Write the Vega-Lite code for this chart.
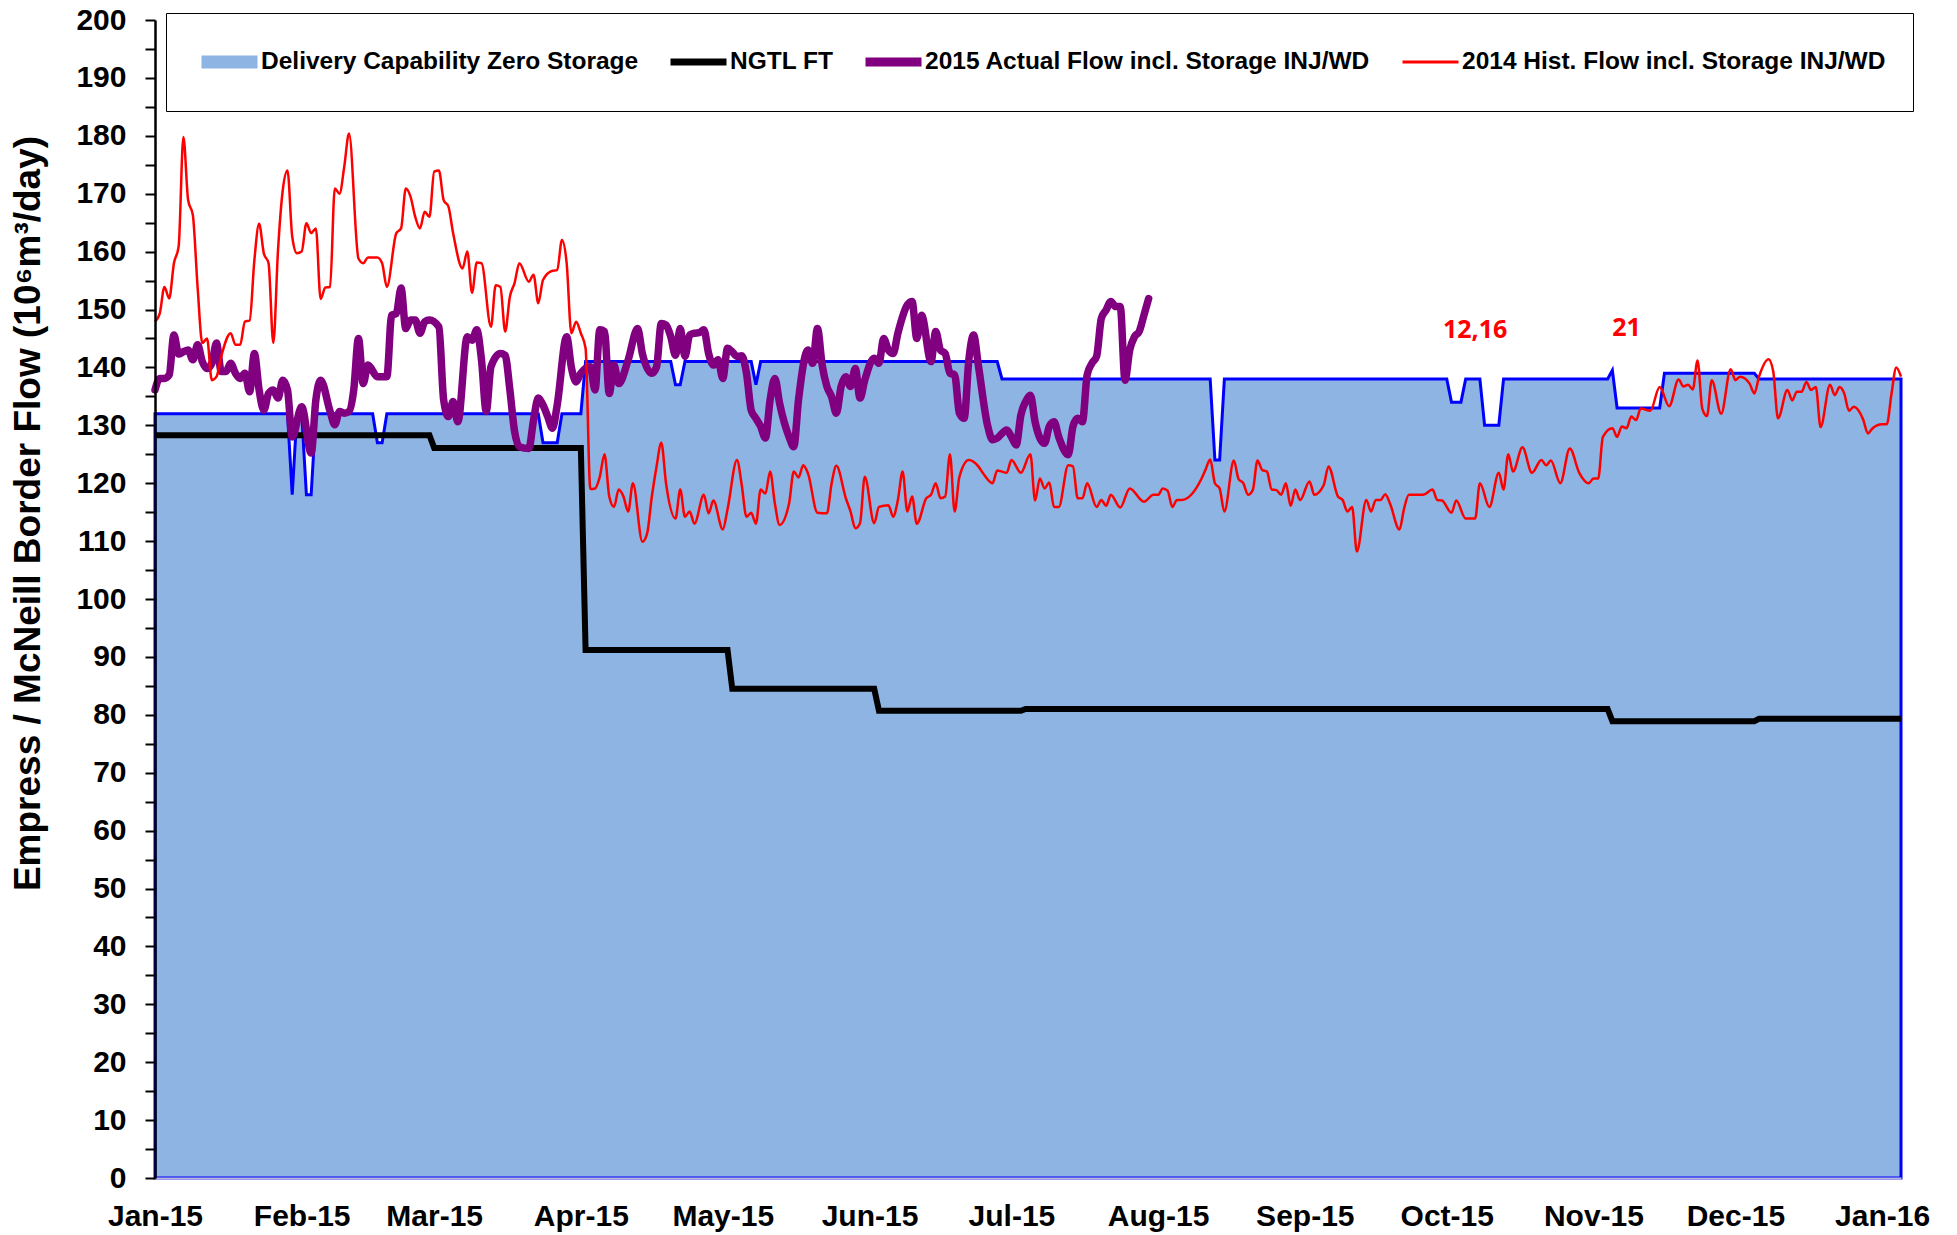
{
  "$schema": "https://vega.github.io/schema/vega-lite/v6.json",
  "width": 1746,
  "height": 1158,
  "autosize": {"type": "none"},
  "padding": {"left": 155, "top": 20, "right": 56, "bottom": 57},
  "background": "white",
  "config": {"view": {"stroke": null}, "font": "Liberation Sans"},
  "datasets": {
    "cap": [
      {"date": "2015-01-01", "value": 132}, {"date": "2015-01-29", "value": 132}, {"date": "2015-01-30", "value": 118}, {"date": "2015-01-31", "value": 132},
      {"date": "2015-02-01", "value": 132}, {"date": "2015-02-02", "value": 118}, {"date": "2015-02-03", "value": 118}, {"date": "2015-02-04", "value": 132},
      {"date": "2015-02-16", "value": 132}, {"date": "2015-02-17", "value": 127}, {"date": "2015-02-18", "value": 127}, {"date": "2015-02-19", "value": 132},
      {"date": "2015-03-23", "value": 132}, {"date": "2015-03-24", "value": 127}, {"date": "2015-03-27", "value": 127}, {"date": "2015-03-28", "value": 132},
      {"date": "2015-04-01", "value": 132}, {"date": "2015-04-02", "value": 141}, {"date": "2015-04-20", "value": 141}, {"date": "2015-04-21", "value": 137},
      {"date": "2015-04-22", "value": 137}, {"date": "2015-04-23", "value": 141}, {"date": "2015-05-07", "value": 141}, {"date": "2015-05-08", "value": 137},
      {"date": "2015-05-09", "value": 141}, {"date": "2015-06-28", "value": 141}, {"date": "2015-06-29", "value": 138}, {"date": "2015-08-12", "value": 138},
      {"date": "2015-08-13", "value": 124}, {"date": "2015-08-14", "value": 124}, {"date": "2015-08-15", "value": 138}, {"date": "2015-10-01", "value": 138},
      {"date": "2015-10-02", "value": 134}, {"date": "2015-10-04", "value": 134}, {"date": "2015-10-05", "value": 138}, {"date": "2015-10-08", "value": 138},
      {"date": "2015-10-09", "value": 130}, {"date": "2015-10-12", "value": 130}, {"date": "2015-10-13", "value": 138}, {"date": "2015-11-04", "value": 138},
      {"date": "2015-11-05", "value": 139.5}, {"date": "2015-11-06", "value": 133}, {"date": "2015-11-15", "value": 133}, {"date": "2015-11-16", "value": 139},
      {"date": "2015-12-05", "value": 139}, {"date": "2015-12-06", "value": 138}, {"date": "2016-01-05", "value": 138}
    ],
    "ft": [
      {"date": "2015-01-01", "value": 128.3}, {"date": "2015-02-28", "value": 128.3}, {"date": "2015-03-01", "value": 126.1}, {"date": "2015-04-01", "value": 126.1},
      {"date": "2015-04-02", "value": 91.2}, {"date": "2015-05-02", "value": 91.2}, {"date": "2015-05-03", "value": 84.5}, {"date": "2015-06-02", "value": 84.5},
      {"date": "2015-06-03", "value": 80.7}, {"date": "2015-07-03", "value": 80.7}, {"date": "2015-07-04", "value": 81.0}, {"date": "2015-11-04", "value": 81.0},
      {"date": "2015-11-05", "value": 78.9}, {"date": "2015-12-05", "value": 78.9}, {"date": "2015-12-06", "value": 79.3}, {"date": "2016-01-05", "value": 79.3}
    ],
    "act": [
      {"date": "2015-01-01", "value": 136.1}, {"date": "2015-01-02", "value": 138.1}, {"date": "2015-01-03", "value": 138.1}, {"date": "2015-01-04", "value": 138.7},
      {"date": "2015-01-05", "value": 145.6}, {"date": "2015-01-06", "value": 142.3}, {"date": "2015-01-07", "value": 142.7}, {"date": "2015-01-08", "value": 143},
      {"date": "2015-01-09", "value": 141.3}, {"date": "2015-01-10", "value": 143.9}, {"date": "2015-01-11", "value": 141}, {"date": "2015-01-12", "value": 139.8},
      {"date": "2015-01-13", "value": 140.7}, {"date": "2015-01-14", "value": 144.2}, {"date": "2015-01-15", "value": 139.3}, {"date": "2015-01-16", "value": 139.3},
      {"date": "2015-01-17", "value": 140.7}, {"date": "2015-01-18", "value": 139}, {"date": "2015-01-19", "value": 138.1}, {"date": "2015-01-20", "value": 139},
      {"date": "2015-01-21", "value": 135.8}, {"date": "2015-01-22", "value": 142.4}, {"date": "2015-01-23", "value": 136.1}, {"date": "2015-01-24", "value": 132.6},
      {"date": "2015-01-25", "value": 135.5}, {"date": "2015-01-26", "value": 136.1}, {"date": "2015-01-27", "value": 134.7}, {"date": "2015-01-28", "value": 137.8},
      {"date": "2015-01-29", "value": 136.1}, {"date": "2015-01-30", "value": 128}, {"date": "2015-02-01", "value": 133.2}, {"date": "2015-02-03", "value": 125.2},
      {"date": "2015-02-04", "value": 134.4}, {"date": "2015-02-05", "value": 137.8}, {"date": "2015-02-07", "value": 132.4}, {"date": "2015-02-08", "value": 130.1},
      {"date": "2015-02-09", "value": 132.4}, {"date": "2015-02-10", "value": 132.1}, {"date": "2015-02-11", "value": 132.4}, {"date": "2015-02-12", "value": 136.1},
      {"date": "2015-02-13", "value": 145}, {"date": "2015-02-14", "value": 137.2}, {"date": "2015-02-15", "value": 140.4}, {"date": "2015-02-17", "value": 138.4},
      {"date": "2015-02-19", "value": 138.4}, {"date": "2015-02-20", "value": 149}, {"date": "2015-02-21", "value": 149.3}, {"date": "2015-02-22", "value": 153.7},
      {"date": "2015-02-23", "value": 146.7}, {"date": "2015-02-24", "value": 148.2}, {"date": "2015-02-25", "value": 148.2}, {"date": "2015-02-26", "value": 145.9},
      {"date": "2015-02-27", "value": 147.9}, {"date": "2015-02-28", "value": 148.2}, {"date": "2015-03-02", "value": 147}, {"date": "2015-03-03", "value": 134.4},
      {"date": "2015-03-04", "value": 131.5}, {"date": "2015-03-05", "value": 134.1}, {"date": "2015-03-06", "value": 130.6}, {"date": "2015-03-08", "value": 145.3},
      {"date": "2015-03-09", "value": 144.7}, {"date": "2015-03-10", "value": 146.5}, {"date": "2015-03-11", "value": 141.3}, {"date": "2015-03-12", "value": 132.4},
      {"date": "2015-03-13", "value": 140.1}, {"date": "2015-03-15", "value": 142.4}, {"date": "2015-03-16", "value": 142.1}, {"date": "2015-03-17", "value": 136.1},
      {"date": "2015-03-18", "value": 128.9}, {"date": "2015-03-19", "value": 126.3}, {"date": "2015-03-21", "value": 126}, {"date": "2015-03-22", "value": 130.9},
      {"date": "2015-03-23", "value": 134.7}, {"date": "2015-03-24", "value": 133.5}, {"date": "2015-03-25", "value": 131.5}, {"date": "2015-03-26", "value": 129.5},
      {"date": "2015-03-27", "value": 133.5}, {"date": "2015-03-29", "value": 145.3}, {"date": "2015-03-30", "value": 140}, {"date": "2015-03-31", "value": 137.5},
      {"date": "2015-04-01", "value": 139}, {"date": "2015-04-03", "value": 140.1}, {"date": "2015-04-04", "value": 136.1}, {"date": "2015-04-05", "value": 146.5},
      {"date": "2015-04-06", "value": 146.2}, {"date": "2015-04-07", "value": 135.5}, {"date": "2015-04-08", "value": 140.4}, {"date": "2015-04-09", "value": 137.2},
      {"date": "2015-04-11", "value": 141.3}, {"date": "2015-04-13", "value": 146.7}, {"date": "2015-04-14", "value": 142.4}, {"date": "2015-04-16", "value": 139},
      {"date": "2015-04-17", "value": 140.1}, {"date": "2015-04-18", "value": 147.6}, {"date": "2015-04-19", "value": 147.3}, {"date": "2015-04-20", "value": 145.3},
      {"date": "2015-04-21", "value": 142.1}, {"date": "2015-04-22", "value": 146.7}, {"date": "2015-04-23", "value": 141.9}, {"date": "2015-04-24", "value": 145.6},
      {"date": "2015-04-25", "value": 145.9}, {"date": "2015-04-26", "value": 146}, {"date": "2015-04-27", "value": 146.5}, {"date": "2015-04-28", "value": 142.4},
      {"date": "2015-04-29", "value": 140.4}, {"date": "2015-04-30", "value": 141.3}, {"date": "2015-05-01", "value": 138.1}, {"date": "2015-05-02", "value": 143.3},
      {"date": "2015-05-03", "value": 142.7}, {"date": "2015-05-04", "value": 141.9}, {"date": "2015-05-05", "value": 142}, {"date": "2015-05-06", "value": 139},
      {"date": "2015-05-07", "value": 132.6}, {"date": "2015-05-08", "value": 131.2}, {"date": "2015-05-09", "value": 129.8}, {"date": "2015-05-10", "value": 127.8},
      {"date": "2015-05-11", "value": 134.4}, {"date": "2015-05-12", "value": 138.1}, {"date": "2015-05-13", "value": 133.8}, {"date": "2015-05-15", "value": 128},
      {"date": "2015-05-16", "value": 126.3}, {"date": "2015-05-17", "value": 134.4}, {"date": "2015-05-19", "value": 143}, {"date": "2015-05-20", "value": 140.7},
      {"date": "2015-05-21", "value": 146.7}, {"date": "2015-05-22", "value": 140.4}, {"date": "2015-05-23", "value": 136.7}, {"date": "2015-05-24", "value": 134.9},
      {"date": "2015-05-25", "value": 132.1}, {"date": "2015-05-26", "value": 136.7}, {"date": "2015-05-27", "value": 138.4}, {"date": "2015-05-28", "value": 136.7},
      {"date": "2015-05-29", "value": 139.8}, {"date": "2015-05-30", "value": 134.7}, {"date": "2015-05-31", "value": 137.8}, {"date": "2015-06-02", "value": 141.6},
      {"date": "2015-06-03", "value": 140.7}, {"date": "2015-06-04", "value": 145}, {"date": "2015-06-05", "value": 143}, {"date": "2015-06-06", "value": 142.4},
      {"date": "2015-06-07", "value": 145.9}, {"date": "2015-06-09", "value": 150.8}, {"date": "2015-06-10", "value": 151.4}, {"date": "2015-06-11", "value": 145},
      {"date": "2015-06-12", "value": 149}, {"date": "2015-06-14", "value": 141}, {"date": "2015-06-15", "value": 146.2}, {"date": "2015-06-16", "value": 143},
      {"date": "2015-06-17", "value": 142.4}, {"date": "2015-06-18", "value": 139}, {"date": "2015-06-19", "value": 138.7}, {"date": "2015-06-20", "value": 132.1},
      {"date": "2015-06-21", "value": 131.2}, {"date": "2015-06-22", "value": 141.3}, {"date": "2015-06-23", "value": 145.6}, {"date": "2015-06-24", "value": 140.4},
      {"date": "2015-06-26", "value": 129.8}, {"date": "2015-06-27", "value": 127.5}, {"date": "2015-06-28", "value": 127.8}, {"date": "2015-06-30", "value": 129.2},
      {"date": "2015-07-01", "value": 128}, {"date": "2015-07-02", "value": 126.6}, {"date": "2015-07-03", "value": 131.8}, {"date": "2015-07-04", "value": 134.1},
      {"date": "2015-07-05", "value": 135.2}, {"date": "2015-07-06", "value": 130.6}, {"date": "2015-07-08", "value": 126.9}, {"date": "2015-07-09", "value": 129.8},
      {"date": "2015-07-10", "value": 130.6}, {"date": "2015-07-11", "value": 128}, {"date": "2015-07-13", "value": 124.9}, {"date": "2015-07-14", "value": 129.8},
      {"date": "2015-07-15", "value": 131.2}, {"date": "2015-07-16", "value": 130.6}, {"date": "2015-07-17", "value": 138.7}, {"date": "2015-07-18", "value": 140.7},
      {"date": "2015-07-19", "value": 141.9}, {"date": "2015-07-20", "value": 148.5}, {"date": "2015-07-21", "value": 149.9}, {"date": "2015-07-22", "value": 151.4},
      {"date": "2015-07-23", "value": 150.5}, {"date": "2015-07-24", "value": 150.5}, {"date": "2015-07-25", "value": 137.8}, {"date": "2015-07-26", "value": 143},
      {"date": "2015-07-27", "value": 145.3}, {"date": "2015-07-28", "value": 146.2}, {"date": "2015-07-29", "value": 149}, {"date": "2015-07-30", "value": 151.9}
    ],
    "hist": [
      {"date": "2015-01-01", "value": 147.9}, {"date": "2015-01-02", "value": 149.3}, {"date": "2015-01-03", "value": 153.9}, {"date": "2015-01-04", "value": 151.9},
      {"date": "2015-01-05", "value": 158}, {"date": "2015-01-06", "value": 160.9}, {"date": "2015-01-07", "value": 179.8}, {"date": "2015-01-08", "value": 168.9},
      {"date": "2015-01-09", "value": 166.3}, {"date": "2015-01-10", "value": 153.9}, {"date": "2015-01-11", "value": 144.2}, {"date": "2015-01-12", "value": 145},
      {"date": "2015-01-13", "value": 137.8}, {"date": "2015-01-14", "value": 138.4}, {"date": "2015-01-15", "value": 141.9}, {"date": "2015-01-17", "value": 145.9},
      {"date": "2015-01-18", "value": 143.9}, {"date": "2015-01-19", "value": 143.9}, {"date": "2015-01-20", "value": 147.9}, {"date": "2015-01-21", "value": 148.1},
      {"date": "2015-01-22", "value": 158.5}, {"date": "2015-01-23", "value": 164.8}, {"date": "2015-01-24", "value": 159.7}, {"date": "2015-01-25", "value": 158},
      {"date": "2015-01-26", "value": 144.2}, {"date": "2015-01-27", "value": 160.3}, {"date": "2015-01-28", "value": 170.6}, {"date": "2015-01-29", "value": 174},
      {"date": "2015-01-30", "value": 162.6}, {"date": "2015-01-31", "value": 159.7}, {"date": "2015-02-01", "value": 160}, {"date": "2015-02-02", "value": 164.9},
      {"date": "2015-02-03", "value": 163.2}, {"date": "2015-02-04", "value": 164}, {"date": "2015-02-05", "value": 151.8}, {"date": "2015-02-06", "value": 153.8},
      {"date": "2015-02-07", "value": 153.9}, {"date": "2015-02-08", "value": 170.9}, {"date": "2015-02-09", "value": 170}, {"date": "2015-02-10", "value": 174.7},
      {"date": "2015-02-11", "value": 180.4}, {"date": "2015-02-13", "value": 158.8}, {"date": "2015-02-14", "value": 158}, {"date": "2015-02-15", "value": 159},
      {"date": "2015-02-17", "value": 159}, {"date": "2015-02-18", "value": 158}, {"date": "2015-02-19", "value": 153.9}, {"date": "2015-02-21", "value": 163.2},
      {"date": "2015-02-22", "value": 164}, {"date": "2015-02-23", "value": 170.9}, {"date": "2015-02-24", "value": 169.5}, {"date": "2015-02-25", "value": 166},
      {"date": "2015-02-26", "value": 164}, {"date": "2015-02-27", "value": 166.9}, {"date": "2015-02-28", "value": 166}, {"date": "2015-03-01", "value": 173.8},
      {"date": "2015-03-02", "value": 174}, {"date": "2015-03-03", "value": 168.9}, {"date": "2015-03-04", "value": 167.8}, {"date": "2015-03-05", "value": 163.2},
      {"date": "2015-03-07", "value": 157.1}, {"date": "2015-03-08", "value": 160}, {"date": "2015-03-09", "value": 152.9}, {"date": "2015-03-10", "value": 158.1},
      {"date": "2015-03-11", "value": 158}, {"date": "2015-03-13", "value": 147}, {"date": "2015-03-14", "value": 154.2}, {"date": "2015-03-15", "value": 153.9},
      {"date": "2015-03-16", "value": 146.2}, {"date": "2015-03-17", "value": 152.2}, {"date": "2015-03-18", "value": 154.6}, {"date": "2015-03-19", "value": 158},
      {"date": "2015-03-21", "value": 154.8}, {"date": "2015-03-22", "value": 156}, {"date": "2015-03-23", "value": 151.1}, {"date": "2015-03-24", "value": 155.1},
      {"date": "2015-03-26", "value": 156.7}, {"date": "2015-03-27", "value": 156.8}, {"date": "2015-03-28", "value": 162}, {"date": "2015-03-29", "value": 158},
      {"date": "2015-03-30", "value": 145.9}, {"date": "2015-03-31", "value": 147.9}, {"date": "2015-04-01", "value": 145.9}, {"date": "2015-04-02", "value": 143.3},
      {"date": "2015-04-03", "value": 119}, {"date": "2015-04-04", "value": 119.1}, {"date": "2015-04-05", "value": 121.1}, {"date": "2015-04-06", "value": 125},
      {"date": "2015-04-07", "value": 117.7}, {"date": "2015-04-08", "value": 115.9}, {"date": "2015-04-09", "value": 118.9}, {"date": "2015-04-10", "value": 117.7},
      {"date": "2015-04-11", "value": 115.1}, {"date": "2015-04-12", "value": 120}, {"date": "2015-04-14", "value": 109.9}, {"date": "2015-04-15", "value": 111.3},
      {"date": "2015-04-16", "value": 117.7}, {"date": "2015-04-17", "value": 122.9}, {"date": "2015-04-18", "value": 127}, {"date": "2015-04-19", "value": 120},
      {"date": "2015-04-21", "value": 113.9}, {"date": "2015-04-22", "value": 118.9}, {"date": "2015-04-23", "value": 114.2}, {"date": "2015-04-24", "value": 115.1},
      {"date": "2015-04-25", "value": 113}, {"date": "2015-04-27", "value": 118}, {"date": "2015-04-28", "value": 114.8}, {"date": "2015-04-29", "value": 117},
      {"date": "2015-05-01", "value": 112}, {"date": "2015-05-02", "value": 115.5}, {"date": "2015-05-04", "value": 124}, {"date": "2015-05-05", "value": 119.7},
      {"date": "2015-05-06", "value": 114.2}, {"date": "2015-05-07", "value": 114.9}, {"date": "2015-05-08", "value": 113}, {"date": "2015-05-09", "value": 118.9},
      {"date": "2015-05-10", "value": 118.2}, {"date": "2015-05-11", "value": 122}, {"date": "2015-05-12", "value": 116.5}, {"date": "2015-05-13", "value": 112.8},
      {"date": "2015-05-15", "value": 116.5}, {"date": "2015-05-16", "value": 122}, {"date": "2015-05-17", "value": 121}, {"date": "2015-05-18", "value": 123.1},
      {"date": "2015-05-19", "value": 121.7}, {"date": "2015-05-21", "value": 114.9}, {"date": "2015-05-23", "value": 114.8}, {"date": "2015-05-24", "value": 120},
      {"date": "2015-05-25", "value": 123}, {"date": "2015-05-27", "value": 117.4}, {"date": "2015-05-28", "value": 115.1}, {"date": "2015-05-29", "value": 112.2},
      {"date": "2015-05-30", "value": 113.1}, {"date": "2015-05-31", "value": 121.1}, {"date": "2015-06-02", "value": 113.1}, {"date": "2015-06-03", "value": 115.9},
      {"date": "2015-06-05", "value": 116.2}, {"date": "2015-06-06", "value": 114.2}, {"date": "2015-06-07", "value": 117.1}, {"date": "2015-06-08", "value": 122},
      {"date": "2015-06-09", "value": 115.1}, {"date": "2015-06-10", "value": 117.7}, {"date": "2015-06-11", "value": 113}, {"date": "2015-06-13", "value": 117.4},
      {"date": "2015-06-14", "value": 118}, {"date": "2015-06-15", "value": 120}, {"date": "2015-06-16", "value": 117.4}, {"date": "2015-06-17", "value": 117.7},
      {"date": "2015-06-18", "value": 125}, {"date": "2015-06-19", "value": 115.1}, {"date": "2015-06-20", "value": 121.1}, {"date": "2015-06-22", "value": 124},
      {"date": "2015-06-24", "value": 122.9}, {"date": "2015-06-25", "value": 121.7}, {"date": "2015-06-27", "value": 120}, {"date": "2015-06-28", "value": 122.2},
      {"date": "2015-06-29", "value": 122}, {"date": "2015-06-30", "value": 121.8}, {"date": "2015-07-01", "value": 124}, {"date": "2015-07-03", "value": 121.8},
      {"date": "2015-07-05", "value": 125}, {"date": "2015-07-06", "value": 117}, {"date": "2015-07-07", "value": 120.8}, {"date": "2015-07-08", "value": 119.1},
      {"date": "2015-07-09", "value": 120.1}, {"date": "2015-07-10", "value": 115.9}, {"date": "2015-07-11", "value": 115.9}, {"date": "2015-07-13", "value": 123.1},
      {"date": "2015-07-14", "value": 122.9}, {"date": "2015-07-15", "value": 117.4}, {"date": "2015-07-16", "value": 117.4}, {"date": "2015-07-17", "value": 120},
      {"date": "2015-07-19", "value": 115.9}, {"date": "2015-07-20", "value": 117.1}, {"date": "2015-07-21", "value": 116.1}, {"date": "2015-07-22", "value": 118},
      {"date": "2015-07-24", "value": 115.8}, {"date": "2015-07-26", "value": 119.1}, {"date": "2015-07-29", "value": 116.8}, {"date": "2015-07-31", "value": 118},
      {"date": "2015-08-01", "value": 118}, {"date": "2015-08-02", "value": 119.1}, {"date": "2015-08-03", "value": 118.7}, {"date": "2015-08-04", "value": 115.9},
      {"date": "2015-08-05", "value": 117.1}, {"date": "2015-08-06", "value": 117.1}, {"date": "2015-08-10", "value": 120.5}, {"date": "2015-08-11", "value": 122.3},
      {"date": "2015-08-12", "value": 124.1}, {"date": "2015-08-13", "value": 120}, {"date": "2015-08-14", "value": 119.1}, {"date": "2015-08-15", "value": 115.1},
      {"date": "2015-08-17", "value": 123.9}, {"date": "2015-08-18", "value": 120.7}, {"date": "2015-08-19", "value": 120}, {"date": "2015-08-20", "value": 118},
      {"date": "2015-08-21", "value": 118.8}, {"date": "2015-08-22", "value": 123.9}, {"date": "2015-08-23", "value": 122.3}, {"date": "2015-08-24", "value": 122},
      {"date": "2015-08-25", "value": 118.9}, {"date": "2015-08-26", "value": 118.8}, {"date": "2015-08-27", "value": 118}, {"date": "2015-08-28", "value": 120},
      {"date": "2015-08-29", "value": 116.1}, {"date": "2015-08-30", "value": 118.9}, {"date": "2015-08-31", "value": 117.1}, {"date": "2015-09-02", "value": 120.3},
      {"date": "2015-09-03", "value": 118}, {"date": "2015-09-05", "value": 119.7}, {"date": "2015-09-06", "value": 122.9}, {"date": "2015-09-08", "value": 117.7},
      {"date": "2015-09-09", "value": 117.1}, {"date": "2015-09-10", "value": 115.1}, {"date": "2015-09-11", "value": 115.9}, {"date": "2015-09-12", "value": 108.2},
      {"date": "2015-09-14", "value": 117.1}, {"date": "2015-09-15", "value": 115.1}, {"date": "2015-09-16", "value": 117.1}, {"date": "2015-09-17", "value": 117.1},
      {"date": "2015-09-18", "value": 118.1}, {"date": "2015-09-19", "value": 116.5}, {"date": "2015-09-21", "value": 112}, {"date": "2015-09-22", "value": 115.7},
      {"date": "2015-09-23", "value": 118}, {"date": "2015-09-25", "value": 118}, {"date": "2015-09-26", "value": 118}, {"date": "2015-09-28", "value": 118.9},
      {"date": "2015-09-29", "value": 117.1}, {"date": "2015-09-30", "value": 117}, {"date": "2015-10-02", "value": 114.9}, {"date": "2015-10-03", "value": 117},
      {"date": "2015-10-05", "value": 113.9}, {"date": "2015-10-07", "value": 113.9}, {"date": "2015-10-08", "value": 120}, {"date": "2015-10-10", "value": 115.9},
      {"date": "2015-10-12", "value": 121.8}, {"date": "2015-10-13", "value": 118.9}, {"date": "2015-10-14", "value": 125}, {"date": "2015-10-15", "value": 122},
      {"date": "2015-10-17", "value": 126.2}, {"date": "2015-10-19", "value": 121.8}, {"date": "2015-10-21", "value": 124}, {"date": "2015-10-22", "value": 123.1},
      {"date": "2015-10-23", "value": 123.9}, {"date": "2015-10-25", "value": 120}, {"date": "2015-10-27", "value": 126}, {"date": "2015-10-29", "value": 121.8},
      {"date": "2015-10-31", "value": 120}, {"date": "2015-11-01", "value": 120.8}, {"date": "2015-11-02", "value": 120.8}, {"date": "2015-11-03", "value": 128},
      {"date": "2015-11-05", "value": 129.5}, {"date": "2015-11-06", "value": 128}, {"date": "2015-11-07", "value": 129.8}, {"date": "2015-11-08", "value": 129.5},
      {"date": "2015-11-09", "value": 131.5}, {"date": "2015-11-10", "value": 130.9}, {"date": "2015-11-11", "value": 132.9}, {"date": "2015-11-13", "value": 132.5},
      {"date": "2015-11-15", "value": 136.6}, {"date": "2015-11-17", "value": 133.3}, {"date": "2015-11-19", "value": 137.9}, {"date": "2015-11-20", "value": 136.7},
      {"date": "2015-11-21", "value": 137}, {"date": "2015-11-22", "value": 136.2}, {"date": "2015-11-23", "value": 141.2}, {"date": "2015-11-24", "value": 132.9},
      {"date": "2015-11-25", "value": 131.6}, {"date": "2015-11-26", "value": 137.8}, {"date": "2015-11-28", "value": 132}, {"date": "2015-11-30", "value": 139.7},
      {"date": "2015-12-01", "value": 137.8}, {"date": "2015-12-02", "value": 138.4}, {"date": "2015-12-04", "value": 137.2}, {"date": "2015-12-05", "value": 135.5},
      {"date": "2015-12-06", "value": 138.4}, {"date": "2015-12-08", "value": 141.4}, {"date": "2015-12-09", "value": 139.3}, {"date": "2015-12-10", "value": 131.2},
      {"date": "2015-12-12", "value": 136.1}, {"date": "2015-12-13", "value": 134.3}, {"date": "2015-12-14", "value": 135.8}, {"date": "2015-12-15", "value": 135.8},
      {"date": "2015-12-16", "value": 137.5}, {"date": "2015-12-17", "value": 136.1}, {"date": "2015-12-18", "value": 136.6}, {"date": "2015-12-19", "value": 129.7},
      {"date": "2015-12-21", "value": 137}, {"date": "2015-12-22", "value": 135.2}, {"date": "2015-12-23", "value": 136.6}, {"date": "2015-12-24", "value": 135.5},
      {"date": "2015-12-25", "value": 132.5}, {"date": "2015-12-26", "value": 133.2}, {"date": "2015-12-28", "value": 131}, {"date": "2015-12-29", "value": 128.6},
      {"date": "2015-12-30", "value": 129.5}, {"date": "2016-01-01", "value": 130.2}, {"date": "2016-01-02", "value": 130.2}, {"date": "2016-01-03", "value": 135.5},
      {"date": "2016-01-04", "value": 140}, {"date": "2016-01-05", "value": 138.4}
    ],
    "notes": [
      {"date": "2015-10-07", "value": 146.5, "label": "12,16"},
      {"date": "2015-11-08", "value": 146.8, "label": "21"}
    ]
  },
  "encoding": {
    "x": {
      "field": "date",
      "type": "temporal",
      "scale": {"type": "utc", "domain": [{"year": 2015, "month": 1, "date": 1, "utc": true}, {"year": 2016, "month": 1, "date": 5, "utc": true}]},
      "axis": {
        "title": null,
        "format": "%b-%y",
        "tickCount": {"interval": "month", "step": 1},
        "ticks": false,
        "tickSize": 0,
        "grid": false,
        "labelFont": "Liberation Sans",
        "labelFontSize": 30,
        "labelFontWeight": "bold",
        "labelColor": "black",
        "labelPadding": 23,
        "labelOverlap": false,
        "labelFlush": false,
        "domainColor": "#B8B8DC",
        "domainWidth": 2,
        "zindex": 1
      }
    },
    "y": {
      "field": "value",
      "type": "quantitative",
      "scale": {"domain": [0, 200], "nice": false, "zero": true},
      "axis": {
        "title": "Empress / McNeill Border Flow (10⁶m³/day)",
        "titleFont": "Liberation Sans",
        "titleFontSize": 37,
        "titleFontWeight": "bold",
        "titleColor": "black",
        "titleAngle": 270,
        "titleX": -127,
        "titleY": 493,
        "titleAlign": "center",
        "titleBaseline": "middle",
        "values": [0, 5, 10, 15, 20, 25, 30, 35, 40, 45, 50, 55, 60, 65, 70, 75, 80, 85, 90, 95, 100, 105, 110, 115, 120, 125, 130, 135, 140, 145, 150, 155, 160, 165, 170, 175, 180, 185, 190, 195, 200],
        "labelExpr": "datum.value % 10 === 0 ? datum.label : ''",
        "labelFont": "Liberation Sans",
        "labelFontSize": 30,
        "labelFontWeight": "bold",
        "labelColor": "black",
        "labelPadding": 19,
        "labelOverlap": false,
        "tickSize": 10,
        "tickColor": "black",
        "tickWidth": 2,
        "domainColor": "black",
        "domainWidth": 2.5,
        "grid": false,
        "zindex": 1,
        "encode": {
          "ticks": {
            "update": {
              "x": {"signal": "datum.value % 10 === 0 ? 5 : 0"},
              "x2": {"signal": "datum.value % 10 === 0 ? -10 : 6"}
            }
          }
        }
      }
    }
  },
  "layer": [
    {
      "data": {"name": "cap"},
      "mark": {"type": "area", "stroke": "#0000FF", "strokeWidth": 3, "opacity": 1, "interpolate": "linear"},
      "encoding": {
        "color": {
          "datum": "Delivery Capability Zero Storage",
          "scale": {
            "domain": ["Delivery Capability Zero Storage", "NGTL FT", "2015 Actual Flow incl. Storage INJ/WD", "2014 Hist. Flow incl. Storage INJ/WD"],
            "range": ["#8EB4E3", "#000000", "#800080", "#FF0000"]
          },
          "legend": {
            "title": " ",
            "titleOrient": "left",
            "titleFontSize": 11,
            "titlePadding": 7,
            "orient": "none",
            "legendX": 11,
            "legendY": -7,
            "direction": "horizontal",
            "columns": 4,
            "columnPadding": 30,
            "padding": 27,
            "clipHeight": 44,
            "strokeColor": "#000000",
            "fillColor": "#FFFFFF",
            "labelFont": "Liberation Sans",
            "labelFontSize": 24.5,
            "labelFontWeight": "bold",
            "labelColor": "black",
            "labelLimit": 800,
            "labelOffset": 2,
            "symbolSize": 3136,
            "symbolOpacity": 1,
            "symbolType": "stroke",
            "symbolStrokeWidth": {"expr": "(datum.value === 'Delivery Capability Zero Storage' ? 13 : datum.value === 'NGTL FT' ? 7 : datum.value === '2015 Actual Flow incl. Storage INJ/WD' ? 9 : 3)"}
          }
        }
      }
    },
    {
      "data": {"name": "ft"},
      "mark": {"type": "line", "strokeWidth": 6, "interpolate": "linear"},
      "encoding": {"color": {"datum": "NGTL FT"}}
    },
    {
      "data": {"name": "act"},
      "mark": {"type": "line", "strokeWidth": 7.5, "interpolate": "monotone", "strokeCap": "round", "strokeJoin": "round"},
      "encoding": {"color": {"datum": "2015 Actual Flow incl. Storage INJ/WD"}}
    },
    {
      "data": {"name": "hist"},
      "mark": {"type": "line", "strokeWidth": 2.5, "interpolate": "monotone"},
      "encoding": {"color": {"datum": "2014 Hist. Flow incl. Storage INJ/WD"}}
    },
    {
      "data": {"name": "notes"},
      "mark": {"type": "text", "color": "#FF0000", "font": "Open Sans", "fontSize": 25, "fontWeight": "bold", "align": "center", "baseline": "middle"},
      "encoding": {"text": {"field": "label", "type": "nominal"}}
    }
  ]
}
